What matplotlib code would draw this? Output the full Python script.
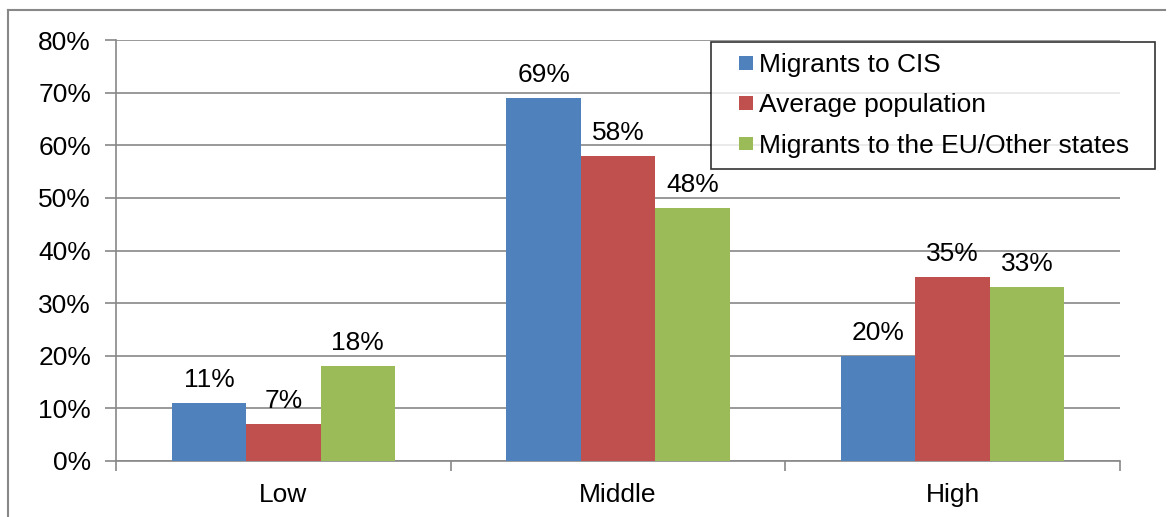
import matplotlib
matplotlib.use("Agg")
import matplotlib.pyplot as plt
from matplotlib.lines import Line2D
from matplotlib.patches import Rectangle
from matplotlib.legend_handler import HandlerPatch
from matplotlib.ticker import PercentFormatter
import numpy as np

plt.rcParams['font.family'] = ['Liberation Sans', 'DejaVu Sans']

categories = ["Low", "Middle", "High"]
series_names = ["Migrants to CIS", "Average population", "Migrants to the EU/Other states"]
migrants_cis = [11, 69, 20]
average_population = [7, 58, 35]
migrants_eu_other = [18, 48, 33]
colors = ["#4F81BD", "#C0504D", "#9BBB59"]
yticks = [0, 10, 20, 30, 40, 50, 60, 70, 80]

FS = 19
W, H = 1170, 517
fig = plt.figure(figsize=(W / 100, H / 100), dpi=100)
ax = fig.add_axes([116 / W, 1 - 461 / H, (1120 - 116) / W, (461 - 40) / H])

x = np.arange(len(categories))
bw = 1 / 4.5
series = [migrants_cis, average_population, migrants_eu_other]
handles = []
for i, (vals, name, c) in enumerate(zip(series, series_names, colors)):
    bars = ax.bar(x + (i - 1) * bw, vals, width=bw, color=c, label=name, zorder=3)
    handles.append(bars)
    for b, v in zip(bars, vals):
        ax.annotate(f"{v}%", (b.get_x() + b.get_width() / 2, v), xytext=(0, 8),
                    textcoords="offset points", ha="center", va="bottom", fontsize=FS)

grid_c = "#888888"
ax.set_ylim(0, 80)
ax.set_xlim(-0.5, 2.5)
ax.set_yticks(yticks)
ax.yaxis.set_major_formatter(PercentFormatter(decimals=0))
ax.grid(axis="y", color=grid_c, linewidth=1.2, zorder=0)
for s in ["top", "right"]:
    ax.spines[s].set_visible(False)
for s in ["left", "bottom"]:
    ax.spines[s].set_color(grid_c)
    ax.spines[s].set_linewidth(1.2)
ax.set_xticks(x)
ax.set_xticklabels(categories)
ax.set_xticks([-0.5, 0.5, 1.5, 2.5], minor=True)
ax.tick_params(axis="x", which="major", length=0, pad=16, labelsize=FS)
ax.tick_params(axis="x", which="minor", length=7, width=1.2, color=grid_c, direction="out")
ax.tick_params(axis="y", length=8, width=1.2, color=grid_c, direction="out", pad=10, labelsize=FS)


def square_patch(legend, orig_handle, xdescent, ydescent, width, height, fontsize):
    sq = 0.53 * fontsize
    return Rectangle((-xdescent + width - sq, -ydescent + (height - sq) / 2), sq, sq)


x0, x1 = 711 / W, 1155 / W
y_top = 1 - 42 / H
leg = fig.legend(handles=[h.patches[0] for h in handles], labels=series_names, loc="upper left",
                 bbox_to_anchor=(x0, y_top - 0.3, x1 - x0, 0.3), mode="expand",
                 frameon=True, fancybox=False,
                 fontsize=FS, handlelength=1.17, handleheight=0.6, handletextpad=0.23,
                 labelspacing=0.62, borderpad=0.42, borderaxespad=0,
                 handler_map={Rectangle: HandlerPatch(patch_func=square_patch)})
leg.get_frame().set_edgecolor("black")
leg.get_frame().set_linewidth(1.2)

# outer frame lines (top and left)
fig.add_artist(Line2D([8 / W, 1165 / W], [1 - 10 / H, 1 - 10 / H], transform=fig.transFigure,
                      color=grid_c, linewidth=1.5))
fig.add_artist(Line2D([8 / W, 8 / W], [1 - 10 / H, 0], transform=fig.transFigure,
                      color=grid_c, linewidth=1.5))

fig.savefig("out.png", dpi=100)
